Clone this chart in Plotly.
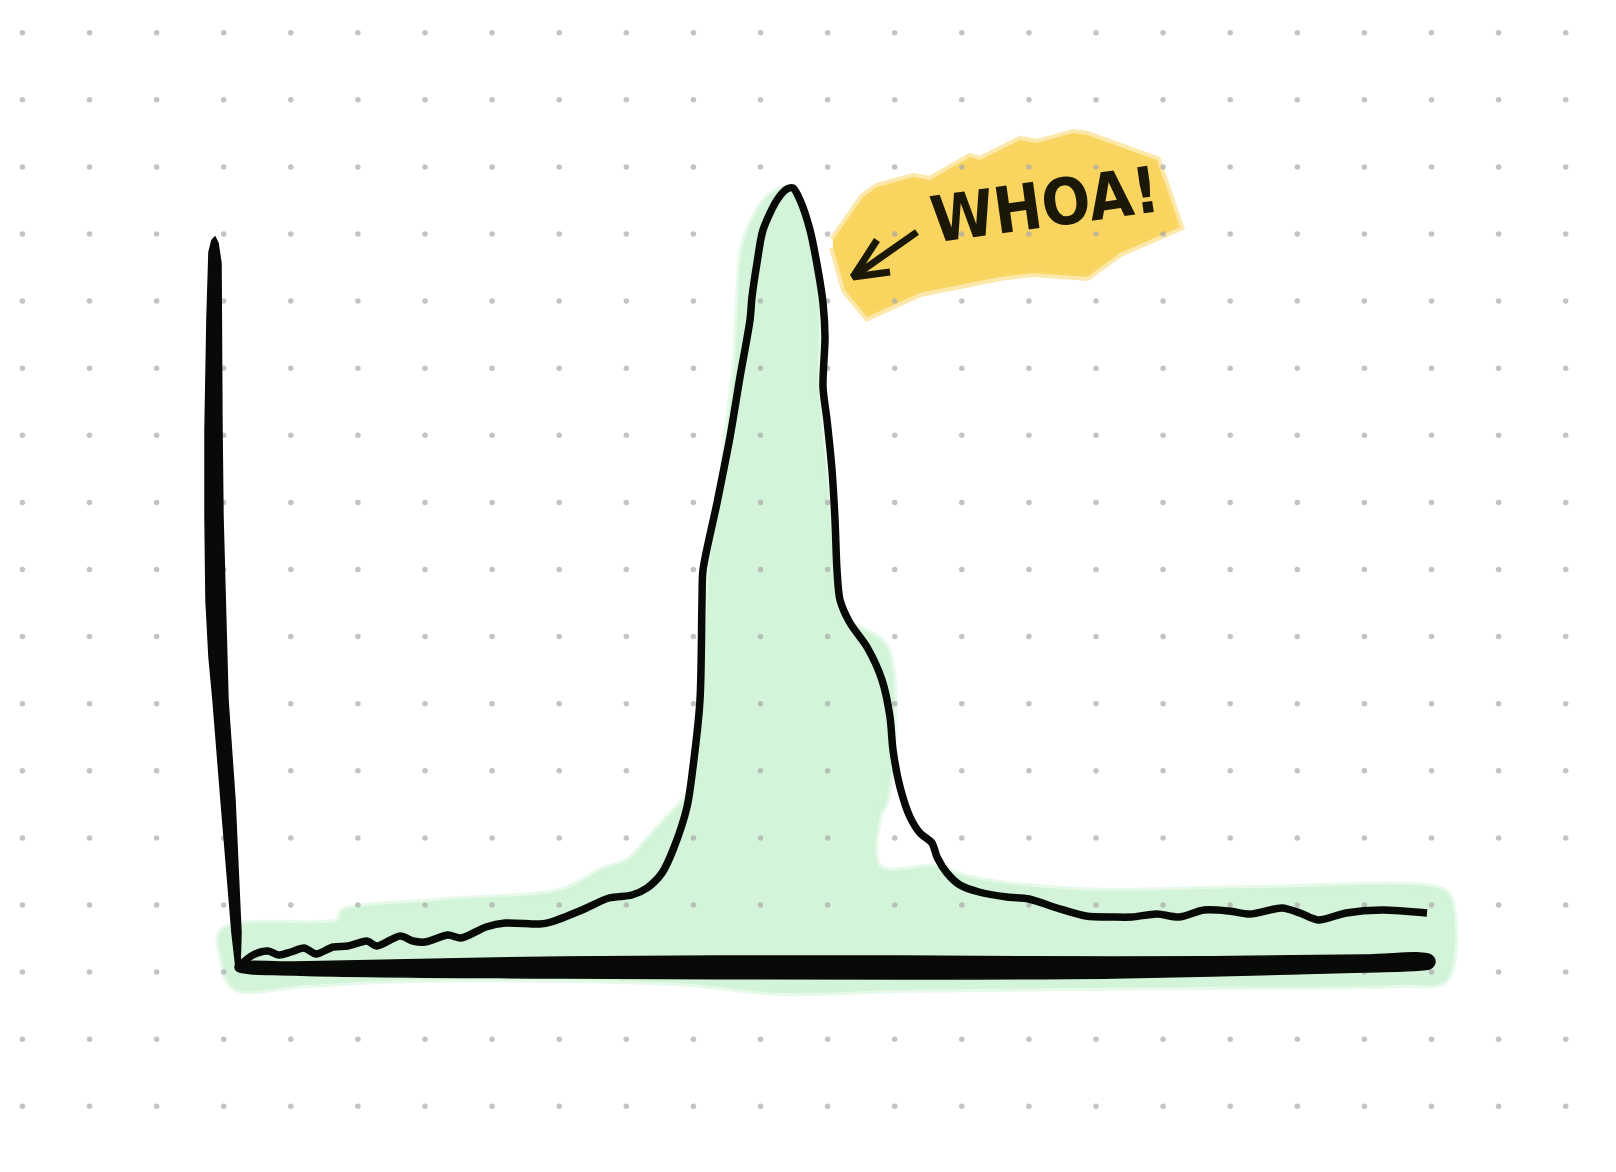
import plotly.graph_objects as go

# ---- main curve (arbitrary units: time vs. level) ----
curve_x = [0, 14, 29, 40, 52, 65, 77, 94, 109, 128, 138, 161, 174, 186, 209, 222, 247, 266, 301, 312,
           343, 370, 393, 408, 423, 434, 448, 454, 461, 463, 464, 478, 491, 501, 511, 513, 518, 524, 538,
           548, 554, 561, 571, 579, 584, 586, 584, 588, 593, 596, 598, 601, 611, 628, 643, 651, 654, 661,
           671, 681, 693, 698, 708, 721, 740, 768, 790, 818, 847, 875, 893, 918, 940, 965, 990, 1011,
           1043, 1061, 1079, 1107, 1143, 1188]
curve_y = [1, 12, 16, 12, 15, 19, 13, 20, 21, 26, 21, 31, 26, 25, 32, 29, 40, 44, 43, 45,
           57, 69, 72, 79, 94, 117, 160, 200, 267, 367, 397, 464, 530, 590, 647, 670, 704, 737, 767,
           778, 779, 767, 737, 697, 664, 630, 580, 547, 497, 447, 397, 367, 344, 320, 287, 250, 217, 180,
           150, 134, 124, 110, 94, 82, 75, 70, 68, 59, 51, 50, 50, 53, 50, 57, 56, 53,
           59, 54, 47, 54, 57, 54]

# ---- loose green marker highlight under the curve ----
fill_x = [-5, -17, -17, 100, 102, 209, 324, 362, 389, 408, 426, 451, 461, 466, 471, 481, 489, 496, 499,
          503, 516, 531, 551, 561, 571, 578, 580, 579, 583, 588, 592, 595, 599, 616, 648, 648, 641, 641,
          697, 732, 840, 1018, 1197, 1211, 1207, 1161, 947, 661, 541, 438, 171, 67, -5]
fill_y = [-21, 7, 37, 47, 55, 67, 77, 97, 107, 127, 147, 177, 247, 327, 407, 477, 547, 607, 667,
          717, 752, 772, 779, 762, 732, 692, 637, 587, 537, 487, 437, 387, 357, 342, 319, 167, 152, 100,
          100, 89, 77, 79, 79, 70, -13, -18, -20, -23, -26, -16, -13, -18, -21]

# ---- hand-drawn axes (outlines of the thick strokes) ----
yaxis_x = [-27, -30, -32, -34, -34, -33, -30, -26, -18, -7, -3, 1, 2, -4, -11, -14, -16, -17, -18, -18, -21, -24, -27]
yaxis_y = [727, 715, 650, 537, 450, 367, 310, 267, 167, 34, -1, -1, 34, 167, 267, 367, 450, 537, 650, 704, 724, 730, 727]
xaxis_x = [-2, 56, 324, 661, 875, 1125, 1181, 1192, 1196, 1192, 1181, 1125, 875, 661, 324, 56, -2, -4, -2]
xaxis_y = [4, 5, 10, 11, 10, 12, 14, 12, 5, -1, -3, -5, -11, -12, -11, -8, -4, 0, 4]

# ---- yellow highlighter behind the note ----
hl_x = [594, 624, 638, 674, 691, 731, 741, 781, 798, 834, 848, 881, 918, 941, 881, 848, 794, 761, 734,
        681, 628, 606, 594]
hl_y = [727, 770, 780, 790, 787, 810, 807, 827, 824, 834, 832, 820, 807, 740, 714, 690, 694, 690, 684,
        674, 650, 677, 720]

# ---- arrow pointing at the peak ----
arrow_x = [638, 614, 651, None, 614, 678]
arrow_y = [727, 690, 695, None, 690, 735]

note_text = "WHOA!"
note_pos = (806, 762)

INK = "#070a07"

fig = go.Figure()

fig.add_trace(go.Scatter(x=fill_x, y=fill_y, mode="lines", fill="toself",
                         fillcolor="rgba(208,243,214,0.92)",
                         line=dict(width=6, color="rgba(208,243,214,0.5)"),
                         line_shape="spline", hoverinfo="skip", showlegend=False))
fig.add_trace(go.Scatter(x=hl_x, y=hl_y, mode="lines", fill="toself",
                         fillcolor="rgba(248,208,78,0.9)",
                         line=dict(width=8, color="rgba(249,214,100,0.55)"),
                         hoverinfo="skip", showlegend=False))

# dotted paper background
dot_x, dot_y = [], []
for j in range(17):
    for i in range(24):
        dot_x.append(-216.6 + 67.1 * i)
        dot_y.append(934.3 - 67.1 * j)
fig.add_trace(go.Scatter(x=dot_x, y=dot_y, mode="markers",
                         marker=dict(size=5.5, color="rgba(170,170,170,0.7)", line=dict(width=0)),
                         hoverinfo="skip", showlegend=False))

fig.add_trace(go.Scatter(x=yaxis_x, y=yaxis_y, mode="lines", fill="toself", fillcolor=INK,
                         line=dict(width=1.5, color=INK),
                         hoverinfo="skip", showlegend=False))
fig.add_trace(go.Scatter(x=xaxis_x, y=xaxis_y, mode="lines", fill="toself", fillcolor=INK,
                         line=dict(width=1.5, color=INK), line_shape="spline",
                         hoverinfo="skip", showlegend=False))

fig.add_trace(go.Scatter(x=curve_x, y=curve_y, mode="lines",
                         line=dict(width=7.5, color=INK, shape="spline", smoothing=0.8),
                         hoverinfo="skip", showlegend=False))

fig.add_trace(go.Scatter(x=arrow_x, y=arrow_y, mode="lines",
                         line=dict(width=7, color="#1c1808"),
                         hoverinfo="skip", showlegend=False))

fig.add_annotation(x=note_pos[0], y=note_pos[1], text="<b>" + note_text + "</b>", showarrow=False,
                   textangle=-8, xanchor="center", yanchor="middle",
                   font=dict(family="DejaVu Sans Condensed, Liberation Sans Narrow, Roboto Condensed, sans-serif",
                             size=64, color="#1c1808"))

# page body has an 8px margin: figure is 1600x1156 and ranges are set so marks land on the page grid
fig.update_layout(
    width=1600, height=1156,
    margin=dict(l=0, r=0, t=0, b=0),
    paper_bgcolor="white", plot_bgcolor="white",
    xaxis=dict(range=[-231, 1369], visible=False, fixedrange=True),
    yaxis=dict(range=[-197, 959], visible=False, fixedrange=True),
    showlegend=False,
)

fig.write_html("out.html")
